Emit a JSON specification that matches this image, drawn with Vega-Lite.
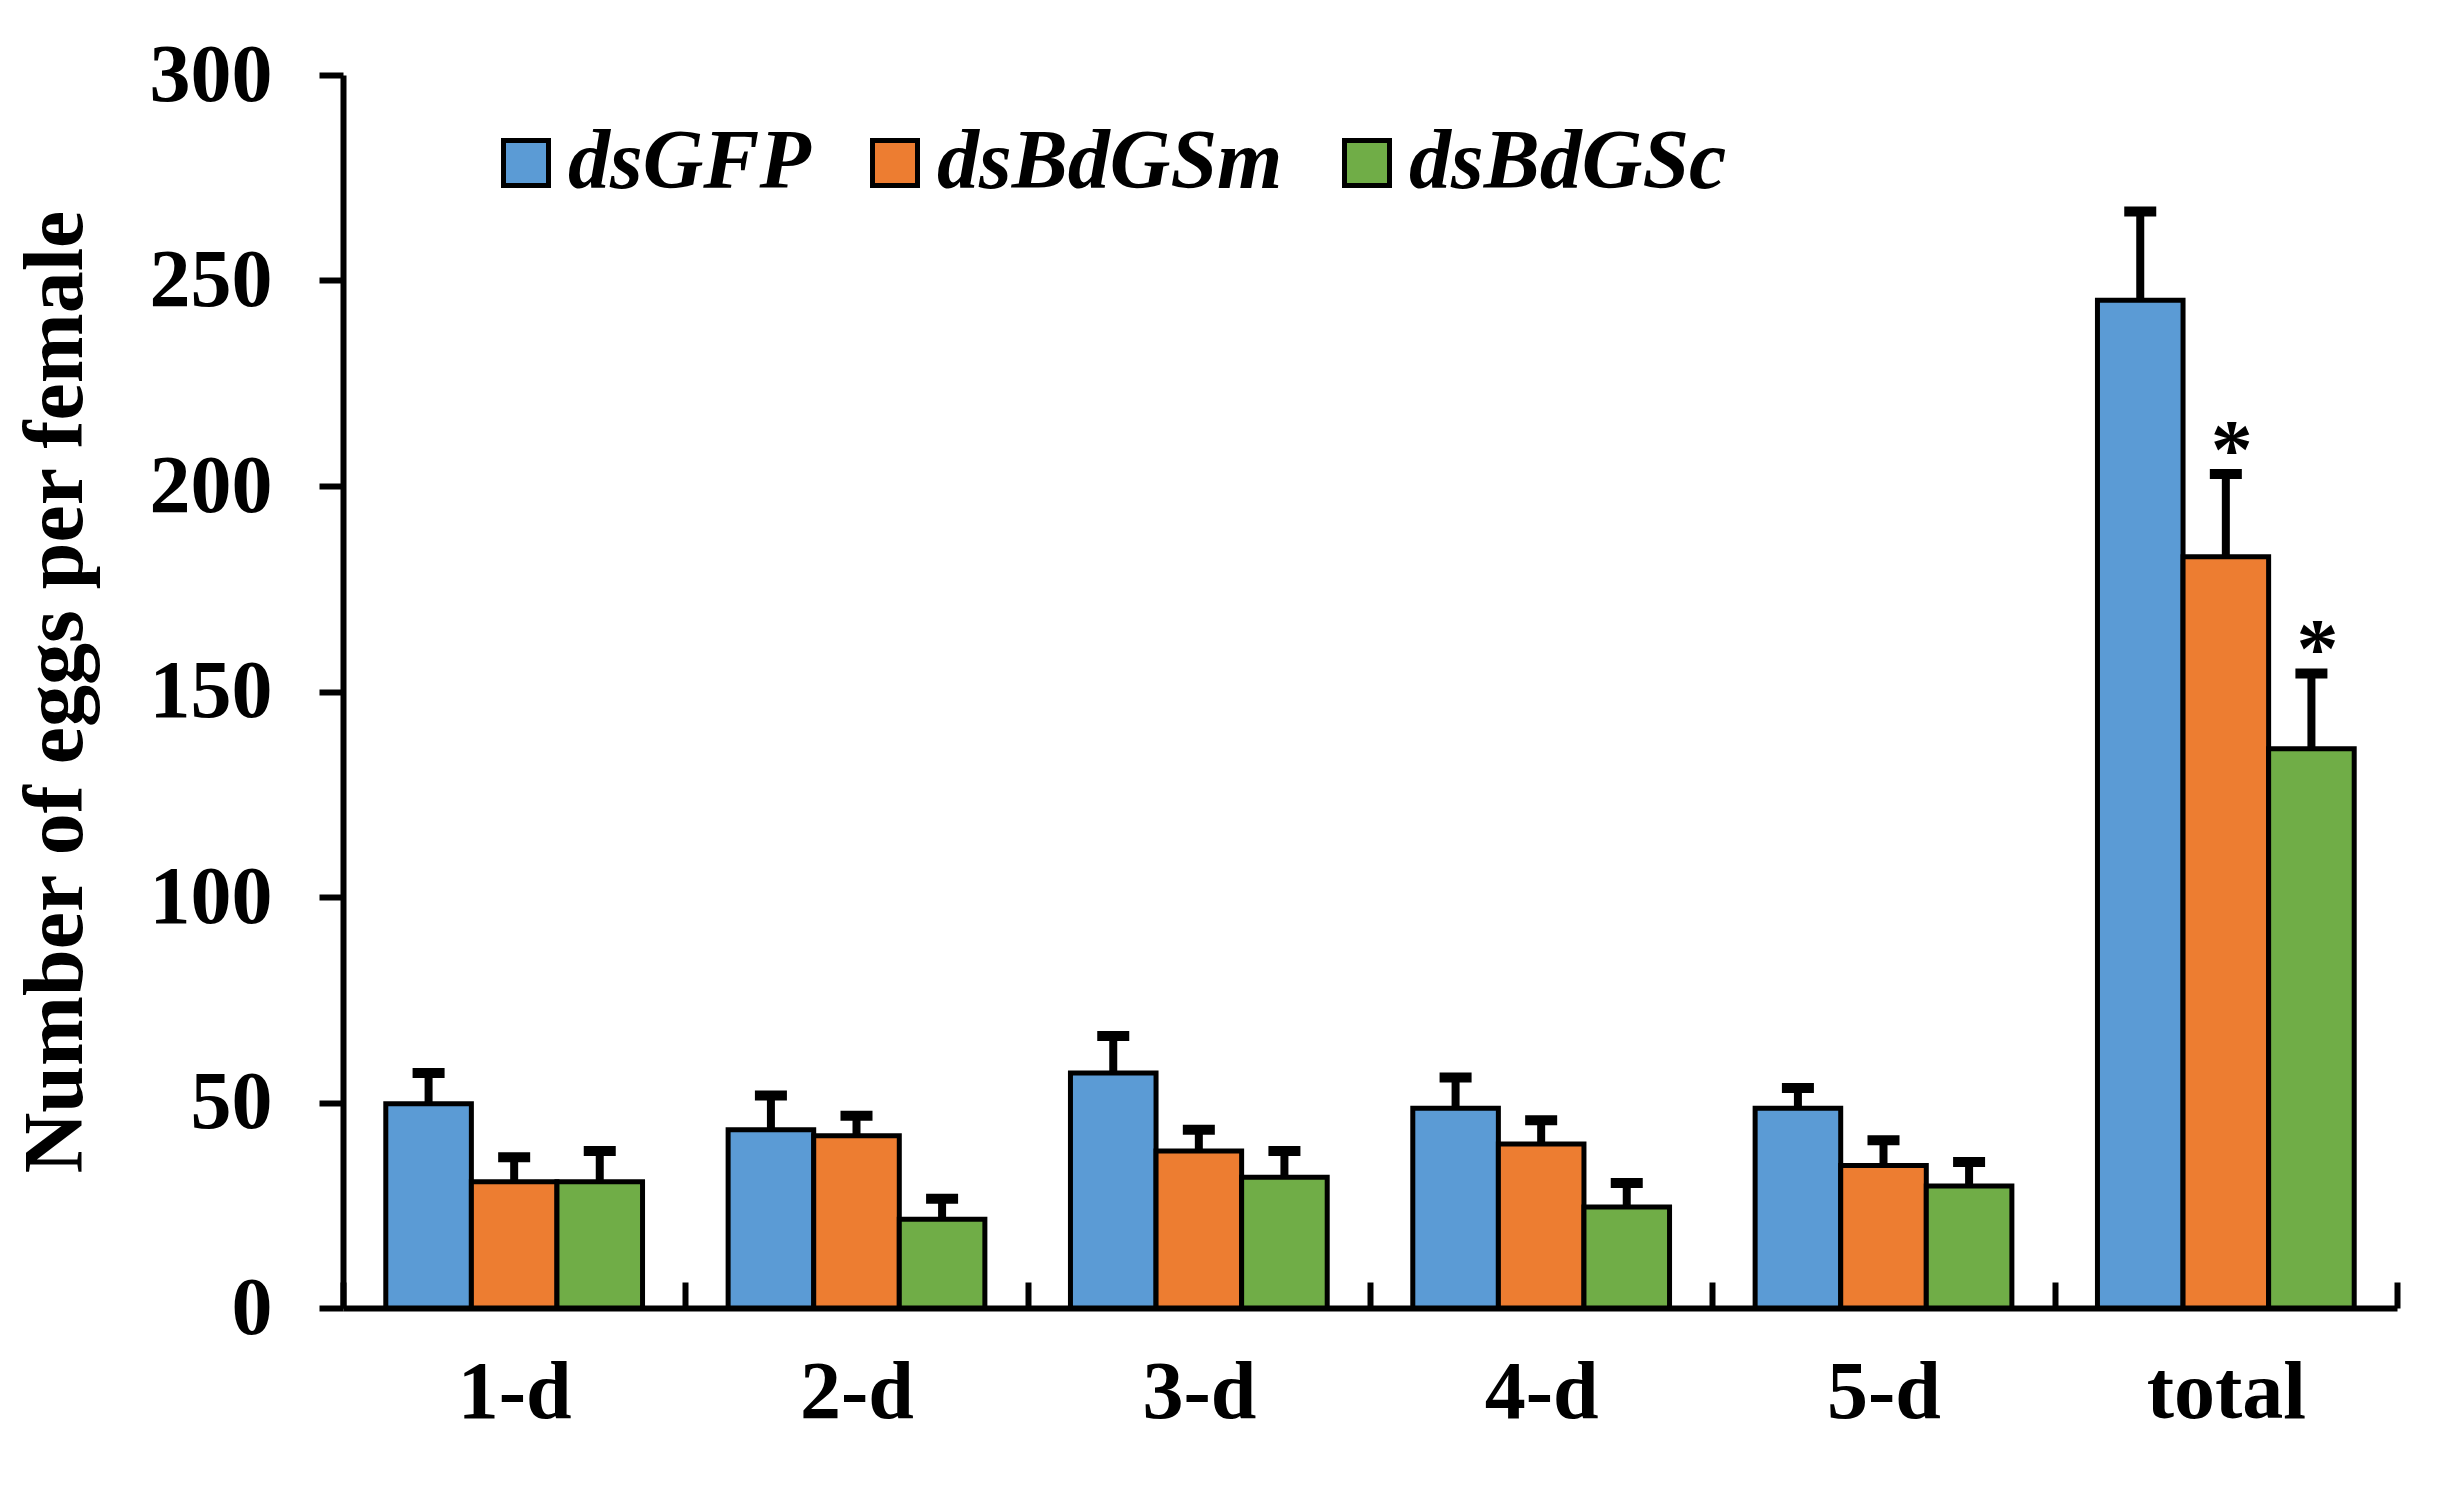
{
  "$schema": "https://vega.github.io/schema/vega-lite/v6.json",
  "description": "Number of eggs per female after dsRNA treatment",
  "width": 2054,
  "height": 1233,
  "autosize": "none",
  "padding": {"left": 343, "top": 75, "right": 47, "bottom": 182},
  "background": "white",
  "data": {
    "values": [
      {"day": "1-d", "group": "dsGFP", "mean": 49.7, "upper": 57.2, "sig": ""},
      {"day": "1-d", "group": "dsBdGSm", "mean": 30.7, "upper": 36.7, "sig": ""},
      {"day": "1-d", "group": "dsBdGSc", "mean": 30.7, "upper": 38.2, "sig": ""},
      {"day": "2-d", "group": "dsGFP", "mean": 43.4, "upper": 51.7, "sig": ""},
      {"day": "2-d", "group": "dsBdGSm", "mean": 41.9, "upper": 46.8, "sig": ""},
      {"day": "2-d", "group": "dsBdGSc", "mean": 21.6, "upper": 26.6, "sig": ""},
      {"day": "3-d", "group": "dsGFP", "mean": 57.2, "upper": 66.2, "sig": ""},
      {"day": "3-d", "group": "dsBdGSm", "mean": 38.2, "upper": 43.4, "sig": ""},
      {"day": "3-d", "group": "dsBdGSc", "mean": 31.8, "upper": 38.2, "sig": ""},
      {"day": "4-d", "group": "dsGFP", "mean": 48.6, "upper": 56.1, "sig": ""},
      {"day": "4-d", "group": "dsBdGSm", "mean": 39.9, "upper": 45.7, "sig": ""},
      {"day": "4-d", "group": "dsBdGSc", "mean": 24.6, "upper": 30.4, "sig": ""},
      {"day": "5-d", "group": "dsGFP", "mean": 48.6, "upper": 53.5, "sig": ""},
      {"day": "5-d", "group": "dsBdGSm", "mean": 34.7, "upper": 40.8, "sig": ""},
      {"day": "5-d", "group": "dsBdGSc", "mean": 29.7, "upper": 35.5, "sig": ""},
      {"day": "total", "group": "dsGFP", "mean": 245.2, "upper": 266.8, "sig": ""},
      {"day": "total", "group": "dsBdGSm", "mean": 182.8, "upper": 202.9, "sig": "*"},
      {"day": "total", "group": "dsBdGSc", "mean": 136.1, "upper": 154.4, "sig": "*"}
    ]
  },
  "encoding": {
    "x": {
      "field": "day",
      "type": "nominal",
      "sort": null,
      "scale": {"paddingInner": 0, "paddingOuter": 0},
      "axis": {
        "title": null,
        "labelAngle": 0,
        "tickBand": "extent",
        "tickSize": -26,
        "tickWidth": 6,
        "labelPadding": 70,
        "labelBaseline": "top"
      }
    },
    "xOffset": {
      "field": "group",
      "type": "nominal",
      "scale": {"domain": ["dsGFP", "dsBdGSm", "dsBdGSc"], "paddingInner": 0, "paddingOuter": 0.5}
    }
  },
  "layer": [
    {
      "mark": {"type": "rule", "strokeWidth": 8, "color": "black"},
      "encoding": {
        "y": {"field": "mean", "type": "quantitative"},
        "y2": {"field": "upper"}
      }
    },
    {
      "mark": {"type": "tick", "size": 32, "thickness": 10, "color": "black", "opacity": 1},
      "encoding": {
        "y": {"field": "upper", "type": "quantitative"}
      }
    },
    {
      "mark": {"type": "bar", "stroke": "black", "strokeWidth": 5, "opacity": 1},
      "encoding": {
        "y": {
          "field": "mean",
          "type": "quantitative",
          "scale": {"domain": [0, 300], "nice": false},
          "axis": {
            "title": "Number of eggs per female",
            "values": [0, 50, 100, 150, 200, 250, 300],
            "tickSize": 24,
            "tickWidth": 6,
            "labelPadding": 47,
            "titlePadding": 50,
            "grid": false
          }
        },
        "color": {
          "field": "group",
          "type": "nominal",
          "scale": {"domain": ["dsGFP", "dsBdGSm", "dsBdGSc"], "range": ["#5B9BD5", "#ED7D31", "#70AD47"]},
          "legend": {
            "title": null,
            "orient": "none",
            "direction": "horizontal",
            "legendX": 141,
            "legendY": 46,
            "symbolType": "square",
            "symbolSize": 2025,
            "symbolStrokeColor": "black",
            "symbolStrokeWidth": 5,
            "symbolOpacity": 1,
            "labelFont": "Liberation Serif",
            "labelFontSize": 84,
            "labelFontStyle": "italic",
            "labelFontWeight": "bold",
            "labelColor": "black",
            "labelOffset": 0,
            "labelLimit": 0,
            "columnPadding": 42
          }
        }
      }
    },
    {
      "transform": [{"filter": "datum.sig != ''"}],
      "mark": {"type": "text", "font": "Liberation Serif", "fontSize": 84, "fontWeight": "bold", "baseline": "alphabetic", "dy": 4, "dx": 6, "color": "black"},
      "encoding": {
        "y": {"field": "upper", "type": "quantitative"},
        "text": {"field": "sig"}
      }
    }
  ],
  "config": {
    "view": {"stroke": null},
    "font": "Liberation Serif",
    "axis": {
      "domainColor": "black",
      "domainWidth": 6,
      "tickColor": "black",
      "labelFont": "Liberation Serif",
      "labelFontSize": 82,
      "labelFontWeight": "bold",
      "labelColor": "black",
      "titleFont": "Liberation Serif",
      "titleFontSize": 84,
      "titleFontWeight": "bold",
      "titleColor": "black"
    }
  }
}
